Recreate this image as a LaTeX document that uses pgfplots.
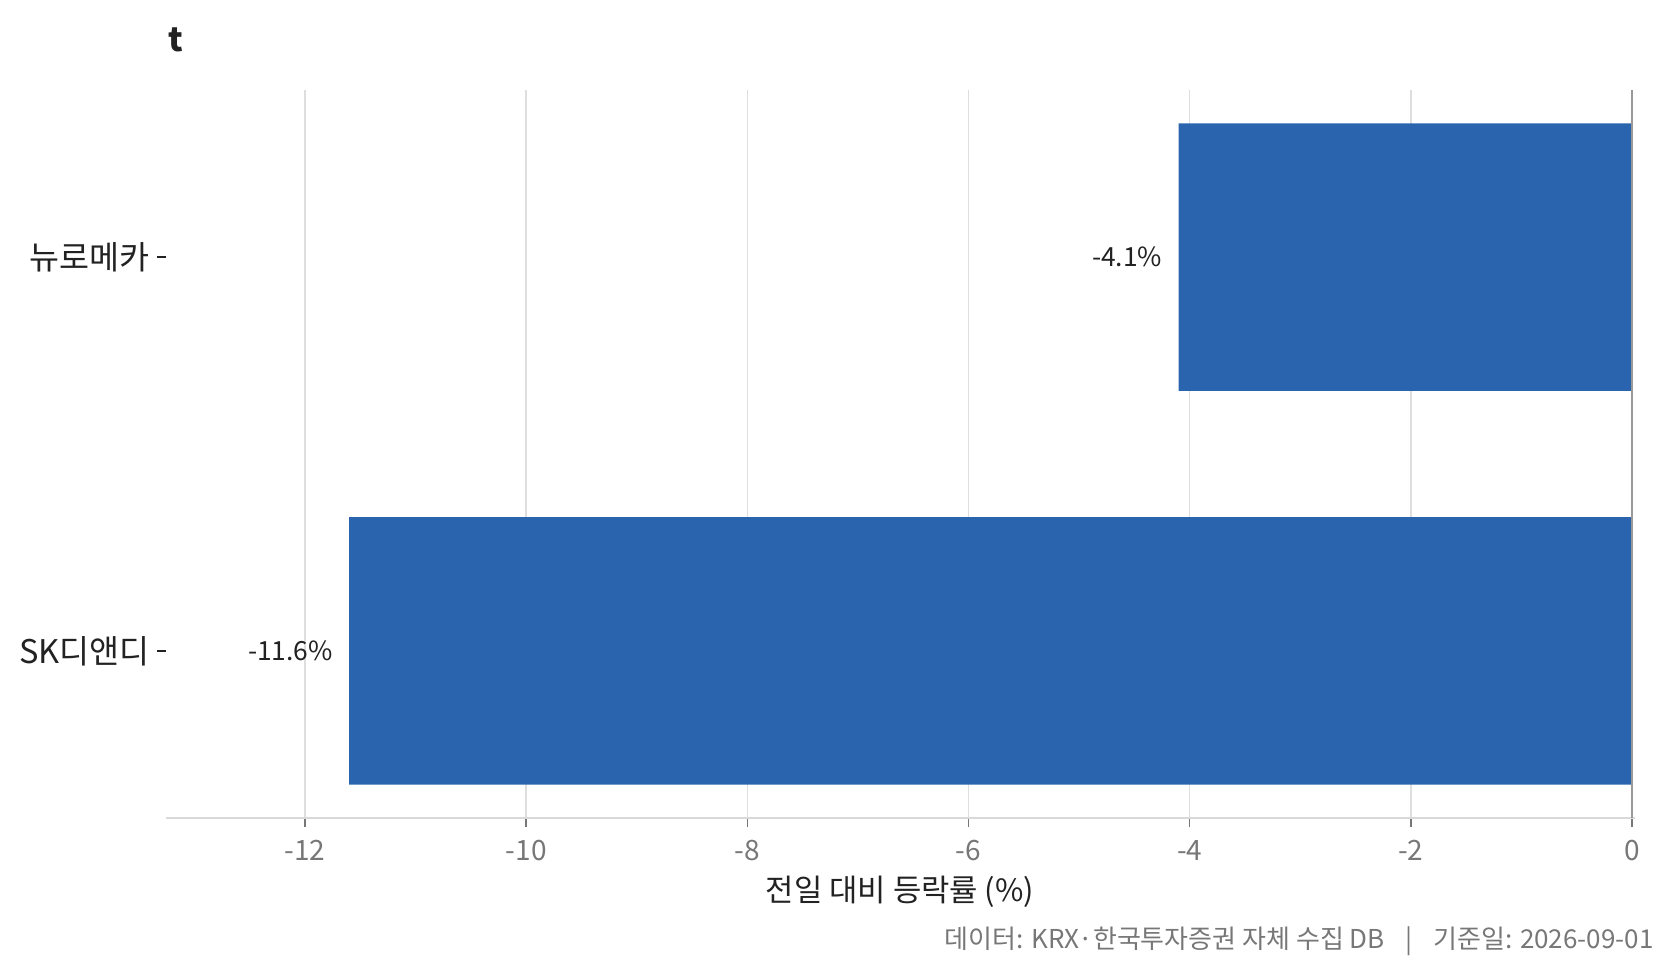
\documentclass[border=0pt]{standalone}
\usepackage{fontspec}
\setmainfont{Noto Sans CJK KR}
\usepackage{pgfplots}
\pgfplotsset{compat=1.18}
\definecolor{barblue}{HTML}{2A64AE}
\definecolor{gridc}{HTML}{DEDEDE}
\definecolor{axisc}{HTML}{D9D9D9}
\definecolor{tickc}{HTML}{777777}
\definecolor{txt}{HTML}{222222}
\definecolor{zeroc}{HTML}{999999}
\begin{document}
\begin{tikzpicture}
\useasboundingbox (0,0) rectangle (836.5pt,487.5pt);
\begin{axis}[
  at={(83pt,78.5pt)}, anchor=south west,
  scale only axis, width=734.5pt, height=364pt,
  xmin=-13.257, xmax=0.027, ymin=-0.424, ymax=1.424,
  axis lines*=left,
  x axis line style={draw=axisc, line width=1pt},
  y axis line style={draw=none},
  xtick={-12,-10,-8,-6,-4,-2,0},
  xticklabels={-12,-10,-8,-6,-4,-2,0},
  ytick={0,1}, yticklabels={SK디앤디,뉴로메카},
  tick align=outside, major tick length=4.5pt,
  xtick style={draw=tickc, line width=0.8pt},
  ytick style={draw=txt, line width=0.8pt},
  xmajorgrids, major x grid style={draw=gridc, line width=0.7pt},
  x tick label style={font=\fontsize{14}{16}\selectfont, text=tickc, yshift=-3pt},
  y tick label style={font=\fontsize{16.3}{18}\selectfont, text=txt},
  clip=false,
]
\addplot[xbar, bar width=0.679, fill=barblue, draw=none,
  point meta=explicit symbolic, nodes near coords,
  every node near coord/.append style={anchor=east, xshift=-8pt, inner sep=0pt,
    font=\fontsize{13.2}{15}\selectfont, text=txt}]
  coordinates {(-11.6,0)[-11.6\%] (-4.1,1)[-4.1\%]};
\addplot[draw=zeroc, line width=0.6pt, no marks] coordinates {(0,-0.424) (0,1.424)};
\end{axis}
\node[anchor=west, inner sep=0pt, font=\fontsize{16.5}{18}\selectfont\bfseries, text=txt] at (83.8pt,467.5pt) {t};
\node[anchor=center, inner sep=0pt, font=\fontsize{15.4}{17}\selectfont, text=txt] at (450pt,41.5pt) {전일 대비 등락률 (\%)};
\node[anchor=east, inner sep=0pt, font=\fontsize{13}{15}\selectfont, text=tickc] at (827pt,17pt) {데이터: KRX·한국투자증권 자체 수집 DB\hspace{0.8em}|\hspace{0.8em}기준일: 2026-09-01};
\end{tikzpicture}
\end{document}
